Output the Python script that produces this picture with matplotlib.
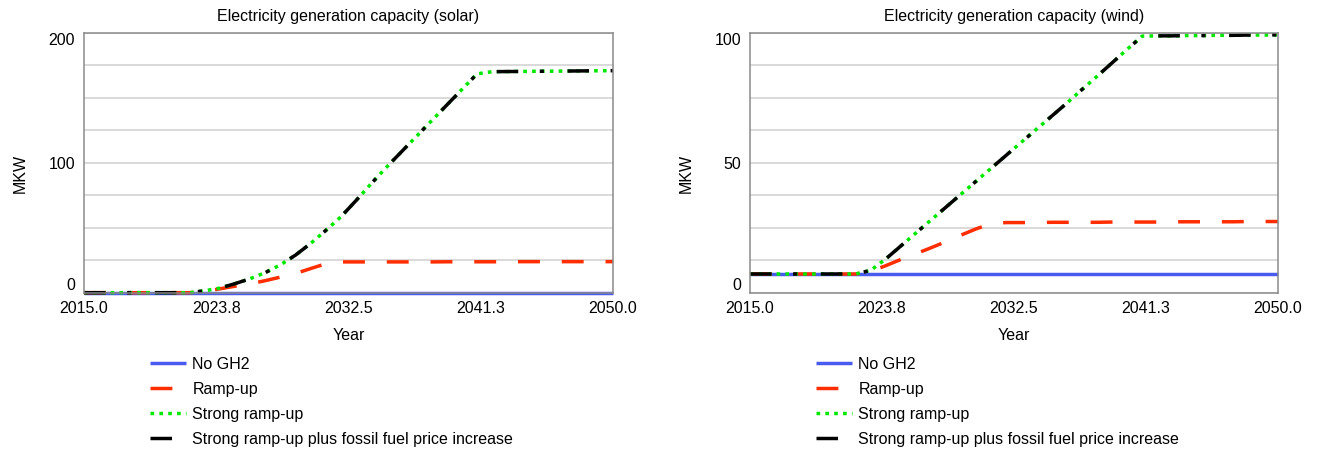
import numpy as np
import matplotlib
matplotlib.use("Agg")
import matplotlib.pyplot as plt

plt.rcParams["font.family"] = ["Liberation Sans", "DejaVu Sans"]
plt.rcParams["font.size"] = 11.5

years = list(range(2015, 2051))
xtick_values = [2015.0, 2023.75, 2032.5, 2041.25, 2050.0]
xtick_labels = ["2015.0", "2023.8", "2032.5", "2041.3", "2050.0"]

scenario_names = ["No GH2", "Ramp-up", "Strong ramp-up",
                  "Strong ramp-up plus fossil fuel price increase"]

# solar capacity, MKW, one value per year 2015..2050
solar_no_gh2 = [0.0, 0.0, 0.0, 0.0, 0.0, 0.0, 0.0, 0.0, 0.0, 0.0, 0.0, 0.0,
                0.0, 0.0, 0.0, 0.0, 0.0, 0.0, 0.0, 0.0, 0.0, 0.0, 0.0, 0.0,
                0.0, 0.0, 0.0, 0.0, 0.0, 0.0, 0.0, 0.0, 0.0, 0.0, 0.0, 0.0]
solar_ramp = [0.0, 0.0, 0.0, 0.0, 0.0, 0.0, 0.0, 0.0, 1.0, 3.0, 5.0, 6.8,
              9.3, 12.0, 14.8, 18.6, 22.3, 23.7, 23.7, 23.7, 23.7, 23.7, 23.7, 23.7,
              23.8, 23.8, 23.8, 23.8, 23.8, 23.9, 23.9, 23.9, 23.9, 23.9, 23.9, 23.9]
solar_strong = [0.0, 0.0, 0.0, 0.0, 0.0, 0.0, 0.0, 0.0, 1.5, 3.6, 7.0, 10.8,
                15.5, 21.5, 29.0, 38.0, 48.0, 58.5, 71.0, 84.0, 96.5, 108.5, 120.5, 132.5,
                144.5, 156.5, 168.5, 170.2, 170.3, 170.4, 170.5, 170.6, 170.7, 170.8, 170.9, 171.0]
solar_strong_fossil = [0.0, 0.0, 0.0, 0.0, 0.0, 0.0, 0.0, 0.0, 1.5, 3.6, 7.0, 10.8,
                       15.5, 21.5, 29.0, 38.0, 48.0, 58.5, 71.0, 84.0, 96.5, 108.5, 120.5, 132.5,
                       144.5, 156.5, 168.5, 170.2, 170.3, 170.4, 170.5, 170.6, 170.7, 170.8, 170.9, 171.0]

# wind capacity, MKW
wind_no_gh2 = [7.2, 7.2, 7.2, 7.2, 7.2, 7.2, 7.2, 7.2, 7.2, 7.2, 7.2, 7.2,
               7.2, 7.2, 7.2, 7.2, 7.2, 7.2, 7.2, 7.2, 7.2, 7.2, 7.2, 7.2,
               7.2, 7.2, 7.2, 7.2, 7.2, 7.2, 7.2, 7.2, 7.2, 7.2, 7.2, 7.2]
wind_ramp = [7.2, 7.2, 7.2, 7.2, 7.2, 7.2, 7.2, 7.2, 8.2, 10.4, 12.8, 15.0,
             17.3, 19.7, 22.2, 24.6, 26.6, 27.0, 27.0, 27.0, 27.1, 27.1, 27.1, 27.1,
             27.2, 27.2, 27.2, 27.2, 27.3, 27.3, 27.3, 27.3, 27.3, 27.4, 27.4, 27.4]
wind_strong = [7.2, 7.2, 7.2, 7.2, 7.2, 7.2, 7.2, 7.2, 8.6, 13.0, 18.0, 23.0,
               28.0, 33.0, 38.0, 43.0, 48.0, 53.0, 58.0, 63.0, 68.0, 73.0, 78.2, 83.3,
               88.5, 93.7, 98.8, 98.9, 98.9, 99.0, 99.0, 99.1, 99.1, 99.2, 99.2, 99.3]
wind_strong_fossil = [7.2, 7.2, 7.2, 7.2, 7.2, 7.2, 7.2, 7.2, 8.6, 13.0, 18.0, 23.0,
                      28.0, 33.0, 38.0, 43.0, 48.0, 53.0, 58.0, 63.0, 68.0, 73.0, 78.2, 83.3,
                      88.5, 93.7, 98.8, 98.9, 98.9, 99.0, 99.0, 99.1, 99.1, 99.2, 99.2, 99.3]

panels = [
    ("Electricity generation capacity (solar)", 200,
     [solar_no_gh2, solar_ramp, solar_strong, solar_strong_fossil]),
    ("Electricity generation capacity (wind)", 100,
     [wind_no_gh2, wind_ramp, wind_strong, wind_strong_fossil]),
]

lw = 2.5
styles = [
    dict(color="#4a5cef", linestyle="-"),
    dict(color="#ff2d00", dashes=(6.3, 6.3)),
    dict(color="#00e800", dashes=(1.05, 1.5)),
    dict(color="black", dashes=(6.2, 6.2, 1.2, 6.8)),
]

fig = plt.figure(figsize=(13.17, 4.5), dpi=100)
axes = [fig.add_axes([0.0638, 0.3496, 0.4017, 0.5771]),
        fig.add_axes([0.5695, 0.3496, 0.4009, 0.5771])]

for ax, (title, ymax, series) in zip(axes, panels):
    for values, name, st in zip(series, scenario_names, styles):
        ax.plot(years, values, lw=lw, label=name, solid_capstyle="butt",
                dash_capstyle="butt", clip_on=False, **st)

    ax.set_xlim(2015, 2050)
    ax.set_ylim(0, ymax)
    ax.set_xticks(xtick_values)
    ax.set_xticklabels(xtick_labels)

    # eight equal bands for the grid, labels only at bottom, middle and top
    grid_pos = np.linspace(0, ymax, 9)
    ylabels = ["" for _ in grid_pos]
    ylabels[0], ylabels[4], ylabels[8] = "0", f"{ymax // 2:g}", f"{ymax:g}"
    ax.set_yticks(grid_pos)
    ax.set_yticklabels(ylabels)
    ticklabels = ax.get_yticklabels()
    ticklabels[0].set_va("bottom")
    ticklabels[8].set_va("top")
    ax.grid(axis="y", color="#d0d0d0", lw=1.1)
    ax.set_axisbelow(True)

    ax.tick_params(length=0)
    ax.tick_params(axis="x", pad=6)
    ax.tick_params(axis="y", pad=6.5)
    for sp in ax.spines.values():
        sp.set_color("#8a8a8a")
        sp.set_linewidth(1.1)

    ax.set_title(title, y=1.062, pad=0, va="center", fontsize=11.5)
    ax.set_ylabel("MKW", va="center")
    ax.yaxis.set_label_coords(-0.12, 0.46)
    ax.set_xlabel("Year", va="center")
    ax.xaxis.set_label_coords(0.5, -0.163)

    ax.legend(loc="upper left", bbox_to_anchor=(0.125, -0.248), frameon=False,
              borderpad=0, borderaxespad=0, handlelength=2.25,
              handletextpad=0.4, labelspacing=0.62)

fig.savefig("out.png", dpi=100)
